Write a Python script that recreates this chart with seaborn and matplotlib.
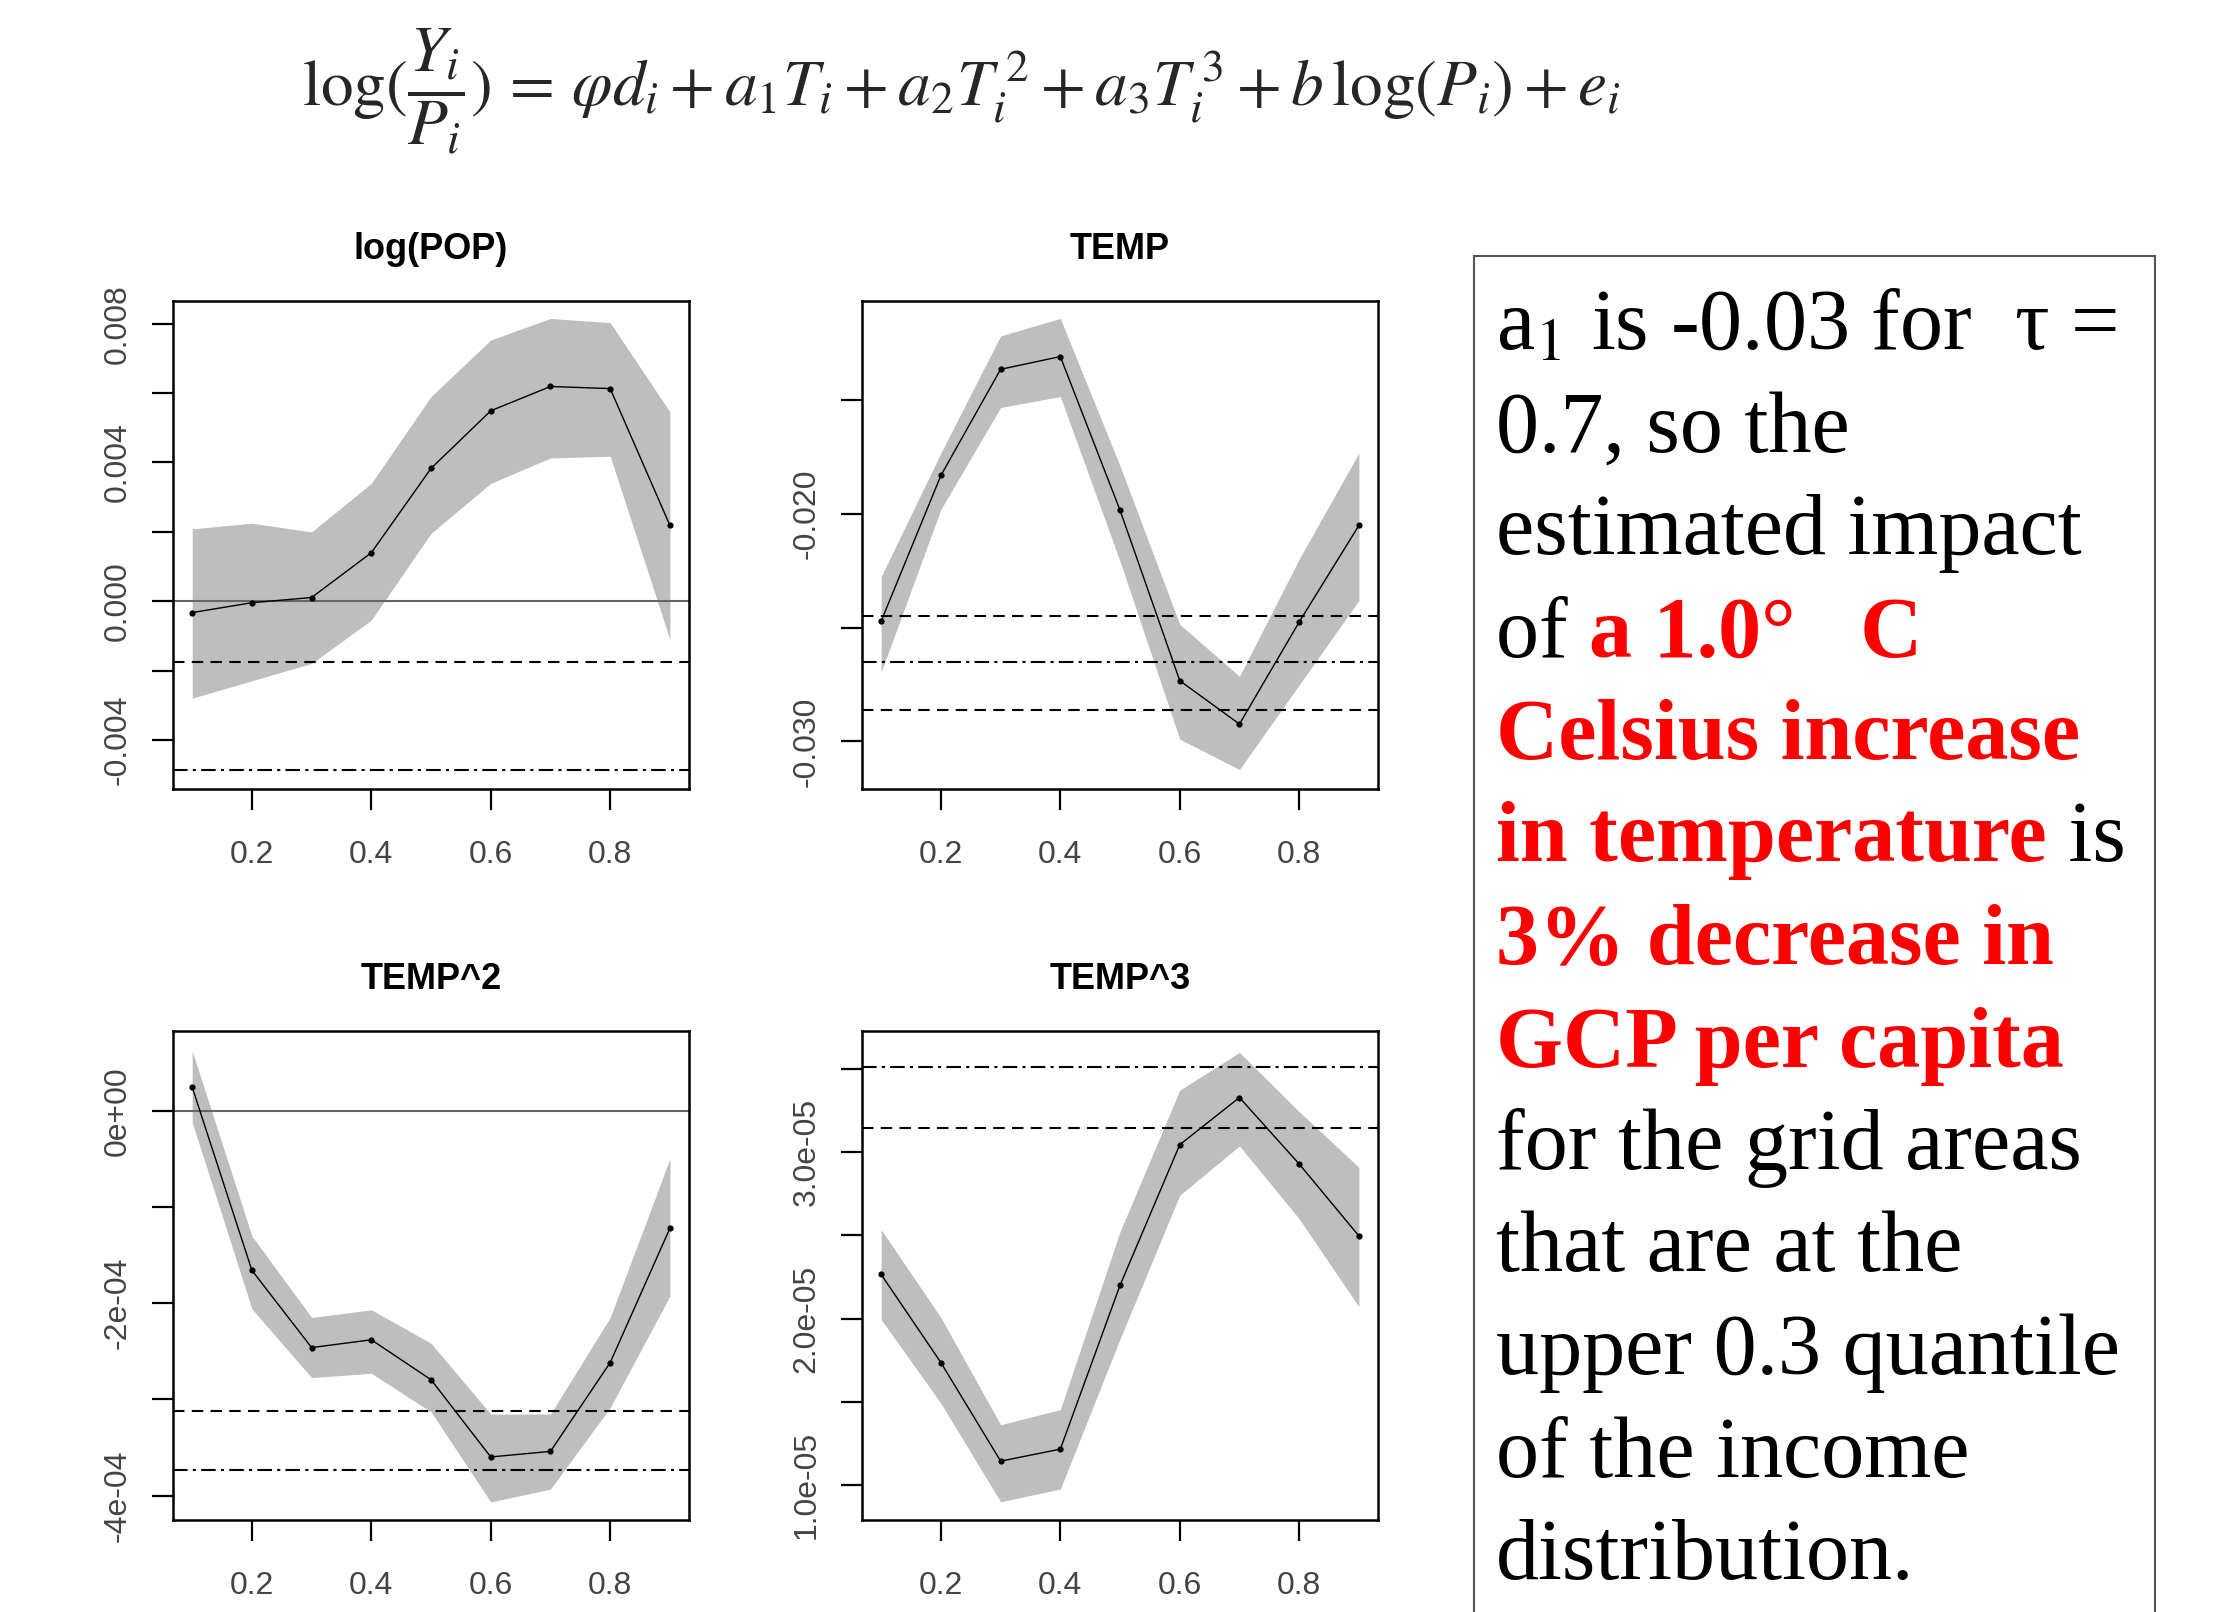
import matplotlib
matplotlib.use("Agg")
import matplotlib.pyplot as plt
import matplotlib.patches as patches
import seaborn as sns

# quantile levels
taus = [0.1, 0.2, 0.3, 0.4, 0.5, 0.6, 0.7, 0.8, 0.9]

# log(POP) coefficient and band
pop_coef = [-0.000325, -0.00004, 0.00011, 0.0014, 0.00383, 0.00549, 0.00619, 0.00613, 0.00219]
pop_upper = [0.00209, 0.00225, 0.0020, 0.0034, 0.0059, 0.00753, 0.00815, 0.00803, 0.00546]
pop_lower = [-0.00279, -0.00229, -0.00179, -0.00054, 0.00196, 0.0034, 0.00413, 0.00418, -0.0011]
pop_dashed = [-0.00176]
pop_dashdot = [-0.00485]
pop_ylim = (-0.00541, 0.00865)
pop_yticks = [-0.004, -0.002, 0.0, 0.002, 0.004, 0.006, 0.008]
pop_ylabels = ["-0.004", "", "0.000", "", "0.004", "", "0.008"]

# TEMP
temp_coef = [-0.02471, -0.0183, -0.01363, -0.01307, -0.01983, -0.02733, -0.02924, -0.02475, -0.0205]
temp_upper = [-0.02275, -0.01731, -0.01216, -0.01139, -0.01788, -0.02485, -0.02714, -0.02198, -0.01731]
temp_lower = [-0.02695, -0.01979, -0.01531, -0.01483, -0.02208, -0.0299, -0.03124, -0.02752, -0.0238]
temp_dashed = [-0.02447, -0.02863]
temp_dashdot = [-0.02653]
temp_ylim = (-0.0321, -0.01063)
temp_yticks = [-0.030, -0.025, -0.020, -0.015]
temp_ylabels = ["-0.030", "", "-0.020", ""]

# TEMP^2
temp2_coef = [2.45e-5, -1.659e-4, -2.462e-4, -2.381e-4, -2.796e-4, -3.599e-4, -3.541e-4, -2.618e-4, -1.222e-4]
temp2_upper = [6.24e-5, -1.302e-4, -2.149e-4, -2.069e-4, -2.417e-4, -3.153e-4, -3.153e-4, -2.149e-4, -0.499e-4]
temp2_lower = [-0.12e-4, -2.06e-4, -2.774e-4, -2.729e-4, -3.13e-4, -4.067e-4, -3.933e-4, -3.086e-4, -1.926e-4]
temp2_dashed = [-3.117e-4]
temp2_dashdot = [-3.737e-4]
temp2_ylim = (-4.254e-4, 8.29e-5)
temp2_yticks = [-4e-4, -3e-4, -2e-4, -1e-4, 0.0]
temp2_ylabels = ["-4e-04", "", "-2e-04", "", "0e+00"]

# TEMP^3
temp3_coef = [2.265e-5, 1.735e-5, 1.142e-5, 1.214e-5, 2.2e-5, 3.046e-5, 3.33e-5, 2.93e-5, 2.497e-5]
temp3_upper = [2.535e-5, 2.006e-5, 1.361e-5, 1.452e-5, 2.523e-5, 3.374e-5, 3.601e-5, 3.245e-5, 2.91e-5]
temp3_lower = [1.994e-5, 1.49e-5, 0.897e-5, 0.974e-5, 1.877e-5, 2.742e-5, 3.039e-5, 2.6e-5, 2.071e-5]
temp3_dashed = [3.147e-5]
temp3_dashdot = [3.516e-5]
temp3_ylim = (0.788e-5, 3.73e-5)
temp3_yticks = [1.0e-5, 1.5e-5, 2.0e-5, 2.5e-5, 3.0e-5, 3.5e-5]
temp3_ylabels = ["1.0e-05", "", "2.0e-05", "", "3.0e-05", ""]

xticks = [0.2, 0.4, 0.6, 0.8]
xlabels = ["0.2", "0.4", "0.6", "0.8"]

sns.set_theme(style="ticks")
plt.rcParams["font.family"] = ["Liberation Sans", "DejaVu Sans"]
plt.rcParams["mathtext.fontset"] = "stix"

fig = plt.figure(figsize=(22.19, 16.12), dpi=100)
fig.patch.set_facecolor("white")

panels = [
    ("log(POP)", pop_coef, pop_lower, pop_upper, pop_dashed, pop_dashdot, pop_ylim, pop_yticks, pop_ylabels),
    ("TEMP", temp_coef, temp_lower, temp_upper, temp_dashed, temp_dashdot, temp_ylim, temp_yticks, temp_ylabels),
    ("TEMP^2", temp2_coef, temp2_lower, temp2_upper, temp2_dashed, temp2_dashdot, temp2_ylim, temp2_yticks, temp2_ylabels),
    ("TEMP^3", temp3_coef, temp3_lower, temp3_upper, temp3_dashed, temp3_dashdot, temp3_ylim, temp3_yticks, temp3_ylabels),
]
rects = [
    [0.078, 0.5105, 0.2325, 0.3027],
    [0.3885, 0.5105, 0.2325, 0.3027],
    [0.078, 0.0571, 0.2325, 0.3033],
    [0.3885, 0.0571, 0.2325, 0.3033],
]

for (title, coef, lower, upper, dashed, dashdot, ylim, yticks, ylabels), rect in zip(panels, rects):
    ax = fig.add_axes(rect)
    ax.fill_between(taus, lower, upper, color="#bebebe", lw=0, zorder=1)
    ax.axhline(0, color="#666666", lw=1.5, zorder=2)
    for v in dashed:
        ax.axhline(v, color="black", lw=1.5, ls=(0, (5.5, 3.5)), zorder=2)
    for v in dashdot:
        ax.axhline(v, color="black", lw=1.5, ls=(0, (7, 2.5, 1.5, 2.5)), zorder=2)
    sns.lineplot(x=taus, y=coef, ax=ax, color="black", lw=1.0, marker="o",
                 markersize=4.5, markeredgewidth=0, zorder=3)
    ax.set_xlim(0.068, 0.932)
    ax.set_ylim(*ylim)
    ax.set_xticks(xticks, xlabels)
    ax.set_yticks(yticks, ylabels)
    ax.tick_params(axis="both", length=15, width=1.6, color="black",
                   labelsize=23, labelcolor="#444444", direction="out")
    ax.tick_params(axis="x", pad=22)
    ax.tick_params(axis="y", pad=14, labelrotation=90)
    for lab in ax.get_yticklabels():
        lab.set_va("center")
    for s in ax.spines.values():
        s.set_visible(True)
        s.set_linewidth(1.8)
        s.set_color("black")
    ax.set_xlabel("")
    ax.set_ylabel("")
    ax.set_title(title, fontsize=26, fontweight="bold", pad=30, color="black")

# regression equation at the top
fig.text(0.433, 0.935,
         r"$\log(\dfrac{Y_i}{P_i})\, =\, \varphi d_i + a_1 T_i + a_2 T_i^{\,2} + a_3 T_i^{\,3} + b\,\log(P_i) + e_i$",
         fontsize=47, ha="center", va="baseline")

# text box on the right
box = patches.Rectangle((1474 / 2219, -0.01), 681 / 2219, 1 - 256 / 1612 + 0.01,
                        transform=fig.transFigure, fill=False, edgecolor="#555555",
                        lw=1.5, clip_on=False)
fig.patches.append(box)

serif = ["Liberation Serif", "DejaVu Serif"]
red = "#ff0000"
lines = [
    [("a$_1$ is -0.03 for  \u03c4 =", "black", "normal")],
    [("0.7, so the", "black", "normal")],
    [("estimated impact", "black", "normal")],
    [("of ", "black", "normal"), ("a 1.0\u00b0   C", red, "bold")],
    [("Celsius increase", red, "bold")],
    [("in temperature", red, "bold"), (" is", "black", "normal")],
    [("3% decrease in", red, "bold")],
    [("GCP per capita", red, "bold")],
    [("for the grid areas", "black", "normal")],
    [("that are at the", "black", "normal")],
    [("upper 0.3 quantile", "black", "normal")],
    [("of the income", "black", "normal")],
    [("distribution.", "black", "normal")],
]
x0 = 1496 / 2219
pieces = []
for k, parts in enumerate(lines):
    y = 1 - (349 + 102.5 * k) / 1612
    row = []
    for txt, col, wt in parts:
        t = fig.text(x0, y, txt, fontsize=62, family=serif, color=col,
                     fontweight=wt, ha="left", va="baseline")
        row.append(t)
    pieces.append(row)

# place follow-on pieces right after the previous one on the same line
fig.canvas.draw()
renderer = fig.canvas.get_renderer()
for row in pieces:
    for prev, t in zip(row[:-1], row[1:]):
        bb = prev.get_window_extent(renderer)
        t.set_x(bb.x1 / fig.bbox.width)

fig.savefig("out.png", dpi=100, facecolor="white")
